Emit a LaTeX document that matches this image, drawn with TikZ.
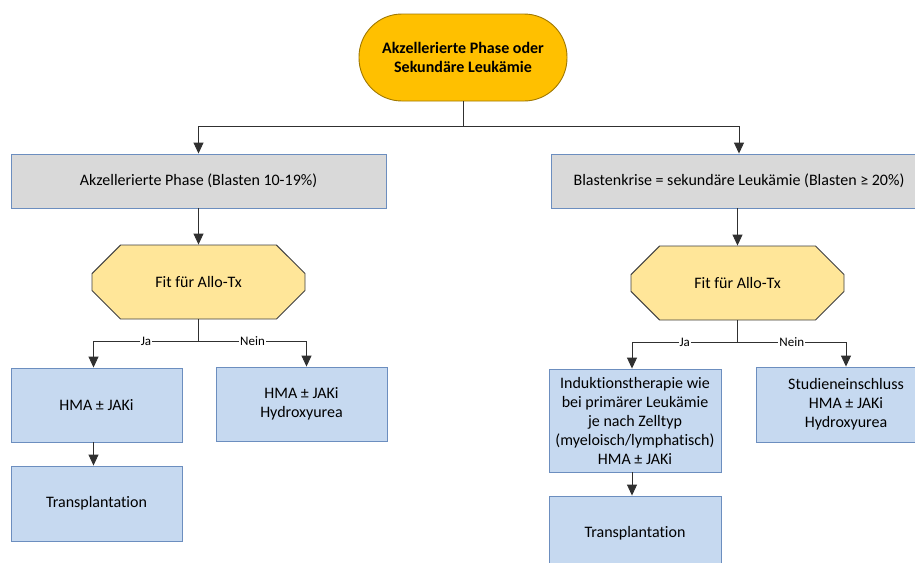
\documentclass[tikz,border=0pt]{standalone}
\usepackage{fontspec}
\setmainfont{Carlito}[Ligatures=NoCommon]
\usetikzlibrary{arrows.meta,shapes.misc,calc}
\definecolor{pillfill}{HTML}{FFC000}
\definecolor{pillline}{HTML}{A07800}
\definecolor{grayfill}{HTML}{D9D9D9}
\definecolor{boxline}{HTML}{6C8EBF}
\definecolor{octfill}{HTML}{FFE699}
\definecolor{octline}{HTML}{404040}
\definecolor{bluefill}{HTML}{C6D9F0}
\definecolor{lineclr}{HTML}{303030}
\tikzset{
  txt/.style={font=\fontsize{16}{19}\selectfont, align=center, text=black},
  pillbox/.style={txt, draw=pillline, fill=pillfill, line width=0.9pt, rounded corners=43pt, font=\fontsize{16}{18.5}\selectfont\bfseries},
  graybox/.style={txt, draw=boxline, fill=grayfill, line width=0.9pt},
  octbox/.style={txt, chamfered rectangle, chamfered rectangle xsep=23pt, chamfered rectangle ysep=23pt, draw=octline, fill=octfill, line width=0.9pt, inner sep=0pt},
  bluebox/.style={txt, draw=boxline, fill=bluefill, line width=0.9pt},
  conn/.style={draw=lineclr, line width=0.9pt},
  arr/.style={conn, -{Triangle[length=11pt,width=10pt]}},
  lbl/.style={font=\fontsize{13}{15}\selectfont, fill=white, inner sep=1pt, text=black}
}
\begin{document}
\begin{tikzpicture}[x=1pt,y=-1pt]
\useasboundingbox (0,0) rectangle (915,562);
\clip (0,0) rectangle (915,562);
\fill[white] (0,0) rectangle (915,562);
% nodes
\node[pillbox, minimum width=208pt, minimum height=87pt] (top) at (463,57.5) {Akzellerierte Phase oder\\Sekundäre Leukämie};
\node[graybox, minimum width=375pt, minimum height=54pt] (gl) at (198.5,181) {Akzellerierte Phase (Blasten 10-19\%)};
\node[graybox, minimum width=376pt, minimum height=54pt] (gr) at (739,181) {Blastenkrise = sekundäre Leukämie (Blasten ≥ 20\%)};
\node[octbox, minimum width=213pt, minimum height=74pt] (ol) at (198.5,282) {Fit für Allo-Tx};
\node[octbox, minimum width=213pt, minimum height=74pt] (or) at (737.5,283) {Fit für Allo-Tx};
\node[bluebox, minimum width=171pt, minimum height=74pt] (hl) at (96.5,405) {HMA ± JAKi};
\node[bluebox, minimum width=171pt, minimum height=74pt] (hr) at (301.5,404) {HMA ± JAKi\\Hydroxyurea};
\node[bluebox, minimum width=171pt, minimum height=75pt] (tl) at (96.5,503.5) {Transplantation};
\node[bluebox, minimum width=172pt, minimum height=103pt, inner sep=1pt] (ind) at (635,420.5) {Induktionstherapie wie\\bei primärer Leukämie\\je nach Zelltyp\\(myeloisch/lymphatisch)\\HMA ± JAKi};
\node[bluebox, minimum width=180pt, minimum height=75pt] (stu) at (846,404.5) {Studieneinschluss\\HMA ± JAKi\\Hydroxyurea};
\node[bluebox, minimum width=172pt, minimum height=74pt] (tr) at (635,533) {};
\node[txt] (trt) at (635,533) {Transplantation};
% connectors
\draw[conn] (top.south) -- ++(0,25) coordinate (j0);
\draw[arr] (j0) -| (gl.north);
\draw[arr] (j0) -| (gr.north);
\draw[arr] (gl.south) -- (ol.north);
\draw[arr] (or.north |- gr.south) -- (or.north);
\draw[conn] (ol.south) -- ++(0,22) coordinate (jl);
\draw[arr] (jl) -| node[lbl, pos=0.25] {Ja} ([xshift=-3pt]hl.north);
\draw[arr] (jl) -| node[lbl, pos=0.25] {Nein} ([xshift=5pt]hr.north);
\draw[arr] ([xshift=-3pt]hl.south) -- ([xshift=-3pt]tl.north);
\draw[conn] (or.south) -- ++(0,22) coordinate (jr);
\draw[arr] (jr) -| node[lbl, pos=0.25] {Ja} ([xshift=-3pt]ind.north);
\draw[arr] (jr) -| node[lbl, pos=0.25] {Nein} (stu.north);
\draw[arr] ([xshift=-3pt]ind.south) -- ([xshift=-3pt]tr.north);
\end{tikzpicture}
\end{document}
